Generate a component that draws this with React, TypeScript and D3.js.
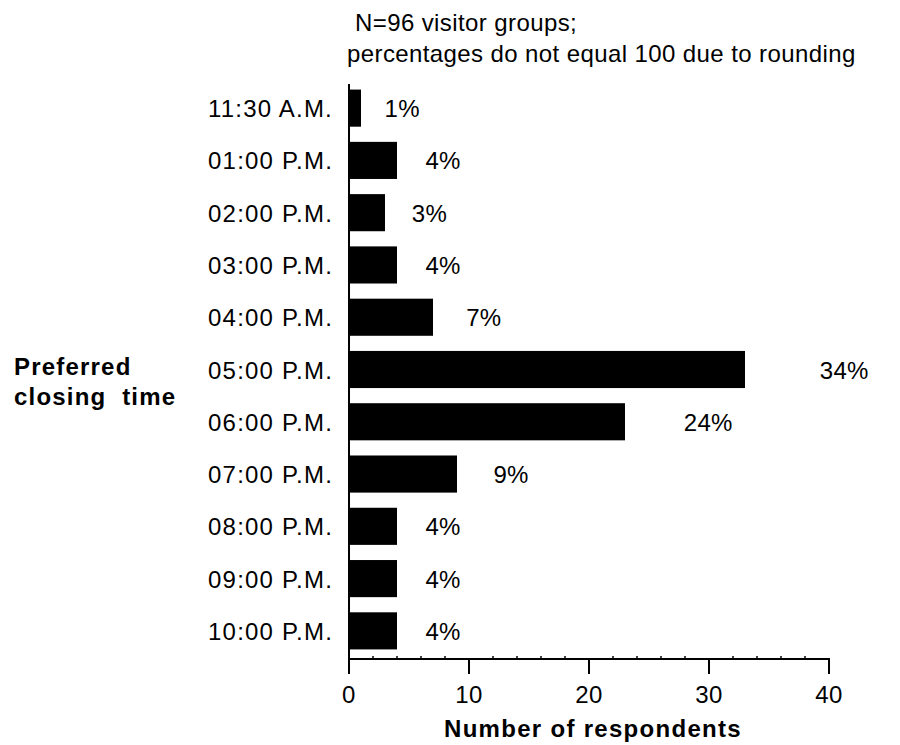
import { useEffect, useRef } from "react"
import * as d3 from "d3"

const categories = [
  "11:30 A.M.",
  "01:00 P.M.",
  "02:00 P.M.",
  "03:00 P.M.",
  "04:00 P.M.",
  "05:00 P.M.",
  "06:00 P.M.",
  "07:00 P.M.",
  "08:00 P.M.",
  "09:00 P.M.",
  "10:00 P.M.",
]
const respondents = [1, 4, 3, 4, 7, 33, 23, 9, 4, 4, 4]
const percentLabels = ["1%", "4%", "3%", "4%", "7%", "34%", "24%", "9%", "4%", "4%", "4%"]
const xTicks = [0, 10, 20, 30, 40]
const noteLines = ["N=96 visitor groups;", "percentages do not equal 100 due to rounding"]

const FONT = "'Liberation Sans', Arial, Helvetica, sans-serif"

export default function App() {
  const svgRef = useRef<SVGSVGElement>(null)

  useEffect(() => {
    if (!svgRef.current) return
    const svg = d3.select(svgRef.current)
    svg.selectAll("*").remove()

    const axisY = 659
    const x = d3.scaleLinear().domain([0, 40]).range([349, 829])
    const y = d3
      .scaleBand()
      .domain(categories)
      .range([82, 657])
      .paddingInner(0.29)
      .paddingOuter(0.145)

    const g = svg.append("g").attr("font-family", FONT).attr("fill", "#000")

    // bars
    g.selectAll(".bar")
      .data(respondents)
      .enter()
      .append("rect")
      .attr("x", x(0))
      .attr("y", (_, i) => y(categories[i]) || 0)
      .attr("width", (d) => x(d) - x(0))
      .attr("height", y.bandwidth())
      .attr("fill", "#000")

    // percentage labels
    g.selectAll(".pct")
      .data(respondents)
      .enter()
      .append("text")
      .attr("x", (d) => x(d) + 22 + d * 1.6)
      .attr("y", (_, i) => (y(categories[i]) || 0) + y.bandwidth() / 2 + 9)
      .attr("font-size", 24)
      .attr("letter-spacing", 0.3)
      .text((_, i) => percentLabels[i])

    // category labels
    g.selectAll(".cat")
      .data(categories)
      .enter()
      .append("text")
      .attr("x", 333)
      .attr("y", (d) => (y(d) || 0) + y.bandwidth() / 2 + 9)
      .attr("text-anchor", "end")
      .attr("font-size", 24)
      .attr("letter-spacing", 1.2)
      .text((d) => d)

    // y axis line
    g.append("line")
      .attr("x1", x(0))
      .attr("x2", x(0))
      .attr("y1", 84)
      .attr("y2", axisY)
      .attr("stroke", "#000")
      .attr("stroke-width", 2)

    // x axis
    g.append("line")
      .attr("x1", x(0) - 1)
      .attr("x2", x(40) + 1)
      .attr("y1", axisY)
      .attr("y2", axisY)
      .attr("stroke", "#000")
      .attr("stroke-width", 2)

    g.selectAll(".minor")
      .data(d3.range(0, 41, 2).filter((v) => v % 10 !== 0))
      .enter()
      .append("line")
      .attr("x1", (d) => x(d))
      .attr("x2", (d) => x(d))
      .attr("y1", axisY - 3)
      .attr("y2", axisY)
      .attr("stroke", "#000")
      .attr("stroke-width", 1.5)

    g.selectAll(".major")
      .data(xTicks)
      .enter()
      .append("line")
      .attr("x1", (d) => x(d))
      .attr("x2", (d) => x(d))
      .attr("y1", axisY)
      .attr("y2", axisY + 15)
      .attr("stroke", "#000")
      .attr("stroke-width", 2)

    g.selectAll(".tick-label")
      .data(xTicks)
      .enter()
      .append("text")
      .attr("x", (d) => x(d))
      .attr("y", 703)
      .attr("text-anchor", "middle")
      .attr("font-size", 24)
      .attr("letter-spacing", 0.5)
      .text((d) => d)

    // axis titles
    g.append("text")
      .attr("x", 593)
      .attr("y", 737)
      .attr("text-anchor", "middle")
      .attr("font-size", 24)
      .attr("font-weight", "bold")
      .attr("letter-spacing", 1.3)
      .text("Number of respondents")

    const yTitle = g
      .append("text")
      .attr("font-size", 24)
      .attr("font-weight", "bold")
      .attr("letter-spacing", 1.2)
      .attr("xml:space", "preserve")
      .style("white-space", "pre")
    yTitle.append("tspan").attr("x", 14).attr("y", 375).text("Preferred")
    yTitle.append("tspan").attr("x", 14).attr("y", 405).text("closing  time")

    // note
    g.selectAll(".note")
      .data(noteLines)
      .enter()
      .append("text")
      .attr("x", (_, i) => (i === 0 ? 355 : 347))
      .attr("y", (_, i) => 31 + i * 31)
      .attr("font-size", 24)
      .attr("letter-spacing", 0.4)
      .text((d) => d)
  }, [])

  return (
    <svg
      ref={svgRef}
      width={900}
      height={745}
      style={{ position: "absolute", left: 0, top: 0, background: "#fff" }}
    />
  )
}
